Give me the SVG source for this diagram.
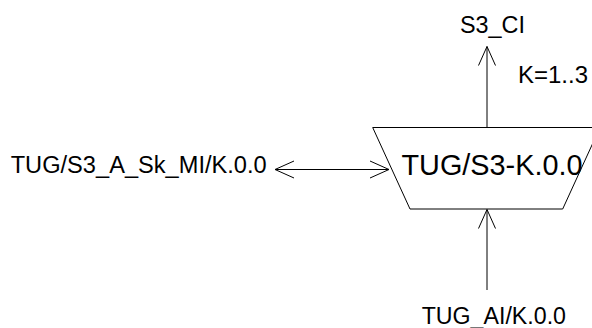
<svg xmlns="http://www.w3.org/2000/svg" width="592" height="328" viewBox="0 0 592 328">
<style>
text{font-family:"Liberation Sans",Arial,sans-serif;fill:#000}
.lbl{font-size:23.5px}
.ln{stroke:#000;stroke-width:1;fill:none}
</style>
<defs>
<marker id="ah" viewBox="-20 -10 22 20" refX="0" refY="0" markerWidth="22" markerHeight="20" markerUnits="userSpaceOnUse" orient="auto-start-reverse">
<path d="M-19,-8.5 L0,0 L-19,8.5" fill="none" stroke="#000" stroke-width="1"/>
</marker>
</defs>
<rect width="592" height="328" fill="#fff"/>
<g id="node-tug-s3">
<polygon class="ln" points="372.7,127.5 600,127.5 562.7,209 410,209"/>
<text x="401.5" y="175" style="font-size:28.8px" textLength="181" lengthAdjust="spacingAndGlyphs">TUG/S3-K.0.0</text>
</g>
<g id="label-s3ci"><text class="lbl" x="460" y="33.3" textLength="65" lengthAdjust="spacingAndGlyphs">S3_CI</text></g>
<g id="label-k"><text class="lbl" x="518" y="83" textLength="70" lengthAdjust="spacingAndGlyphs">K=1..3</text></g>
<g id="label-mi"><text class="lbl" x="10.7" y="173.3" textLength="256" lengthAdjust="spacingAndGlyphs">TUG/S3_A_Sk_MI/K.0.0</text></g>
<g id="label-ai"><text class="lbl" x="421.7" y="323.8" textLength="144.3" lengthAdjust="spacingAndGlyphs">TUG_AI/K.0.0</text></g>
<g id="connectors">
<line class="ln" x1="487" y1="127.5" x2="487" y2="46.5" marker-end="url(#ah)"/>
<line class="ln" x1="275" y1="169.5" x2="389" y2="169.5" marker-start="url(#ah)" marker-end="url(#ah)"/>
<line class="ln" x1="487" y1="290" x2="487" y2="209.5" marker-end="url(#ah)"/>
</g>
</svg>
